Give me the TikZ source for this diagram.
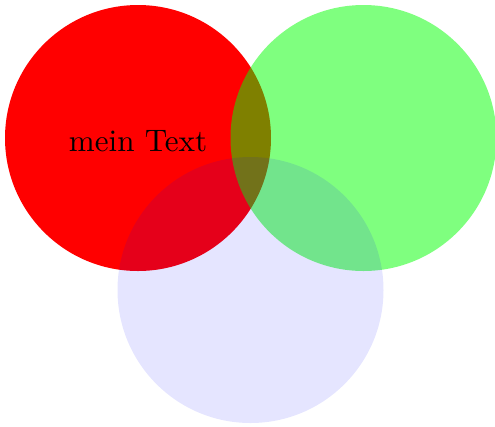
\documentclass[tikz,border=0pt]{standalone}
\begin{document}
\begin{tikzpicture}[x=0.3215pt,y=-0.3215pt,
  disc/.style={circle,minimum size=266*0.3215pt,inner sep=0pt}]
\useasboundingbox (0,0) rectangle (495,426);
\fill[red] (138,138) circle[radius=133];
\fill[green,opacity=0.5] (363.5,138) circle[radius=133];
\fill[blue,opacity=0.1] (250.5,290) circle[radius=133];
\node (t) at (138,141) {mein Text};
\end{tikzpicture}
\end{document}
